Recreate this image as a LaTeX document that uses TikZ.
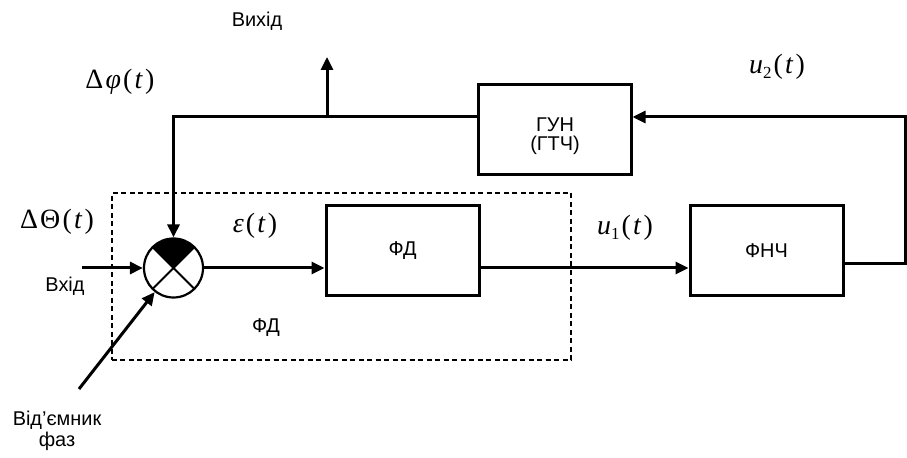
\documentclass[tikz,border=0pt]{standalone}
\usepackage{fontspec}
\setmainfont{Liberation Sans}
\newfontfamily\tnr{Liberation Serif}
\usetikzlibrary{arrows.meta,calc}
\newcommand\kk{\kern2.2bp}
\newcommand\sub[1]{\raisebox{-5bp}{\fontsize{17}{17}\selectfont #1}}
\tikzset{
  blk/.style={draw, line width=3bp, minimum width=153bp, minimum height=90bp, inner sep=0,
    font=\fontsize{20}{23}\selectfont},
  arr/.style={line width=3bp, -{Triangle[length=13bp,width=12bp]}},
  lbl/.style={font=\fontsize{20}{21}\selectfont, inner sep=0, align=center},
  mlbl/.style={font=\tnr\fontsize{28}{32}\selectfont, inner sep=0},
  frame/.style={draw, line width=2.6bp, dash pattern=on 5bp off 3.5bp, inner sep=0,
    minimum width=459bp, minimum height=167bp},
}
\begin{document}
\begin{tikzpicture}[x=1bp,y=-1bp]
\useasboundingbox (0,0) rectangle (907,458);
% frame
\node[frame] (fr) at (341.5,276.5) {};
% blocks
\node[blk] (gun) at (554.5,130) {};
\node[lbl, font=\fontsize{20}{18.5}\selectfont] (gunt) at (555,136) {ГУН\\(ГТЧ)};
\node[blk] (fd) at (402.5,250.5) {ФД};
\node[blk] (fnch) at (766.5,250.5) {ФНЧ};
% comparator
\node[circle, draw, line width=2.2bp, minimum size=59bp, inner sep=0] (sum) at (173.5,268) {};
\begin{scope}[shift={(sum.center)}, x=1bp, y=1bp]
  \fill (0,0) -- (45:29.5) arc[start angle=45, end angle=135, radius=29.5] -- cycle;
  \draw[line width=2bp] (225:29.5) -- (45:29.5) (135:29.5) -- (315:29.5);
\end{scope}
% coordinates
\coordinate (in) at (82,268);
\coordinate (rc) at (905.5,264);
\coordinate (rt) at (905.5,117);
\coordinate (fb) at (173.5,117);
\coordinate (ob) at (327,117);
\coordinate (ot) at (327,57);
\coordinate (ref) at (79,389);
% connectors
\draw[arr] (in) -- (sum.west);
\draw[arr] (sum.east) -- (fd.west |- sum.east);
\draw[arr] (fd.east |- sum.east) -- (fnch.west |- sum.east);
\draw[arr] (fnch.east |- rc) -- (rc) -- (rt) -- (gun.east |- rt);
\draw[arr] (gun.west |- fb) -- (fb) -- (sum.north);
\draw[arr] (ob) -- (ot);
\draw[arr] (ref) -- (sum);
% labels
\node[lbl] (vyh) at (257,21) {Вихід};
\node[lbl] (vh) at (65,286) {Вхід};
\node[lbl] (fdl) at (266,328) {ФД};
\node[lbl] (vf) at (57,431) {Від’ємник\\фаз};
\node[mlbl] (phi) at (120,82) {Δ\kk\textit{φ}\kk(\kk\textit{t}\kk)};
\node[mlbl] (theta) at (57,222) {Δ\kk Θ\kk(\kk\textit{t}\kk)};
\node[mlbl] (eps) at (255,226) {\textit{ε}\kk(\kk\textit{t}\kk)};
\node[mlbl] (u1) at (625,228) {\textit{u}\sub{1}\kk(\kk\textit{t}\kk)};
\node[mlbl] (u2) at (777,67) {\textit{u}\sub{2}\kk(\kk\textit{t}\kk)};
\end{tikzpicture}
\end{document}
